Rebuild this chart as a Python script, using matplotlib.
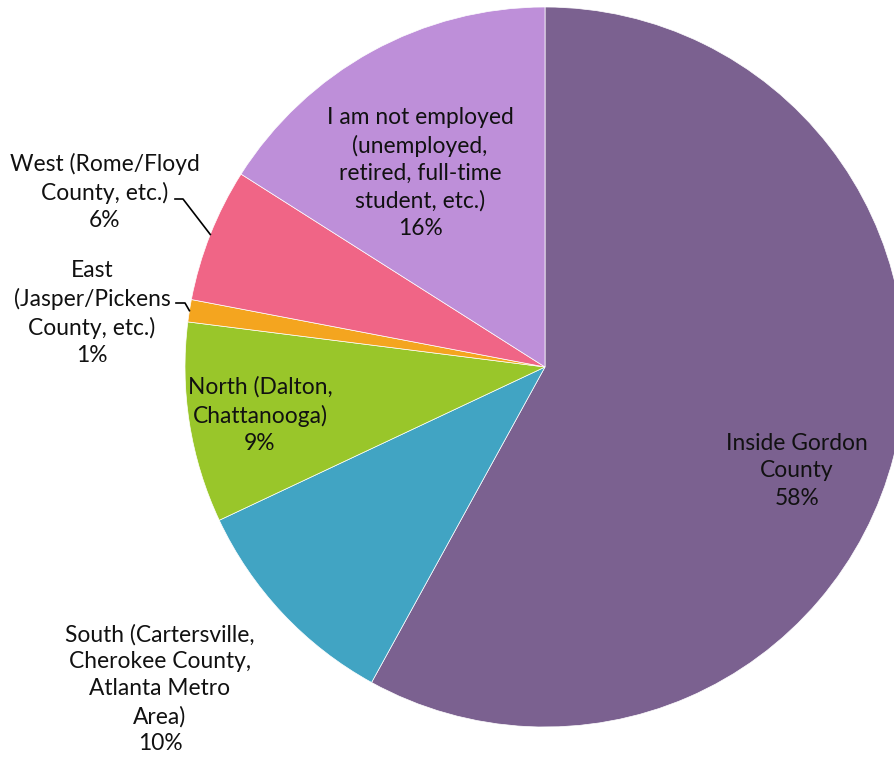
import numpy as np
import matplotlib.pyplot as plt

plt.rcParams['font.family'] = ['Lato', 'DejaVu Sans']

# Where respondents work (share of answers, %)
categories = [
    "Inside Gordon\nCounty",
    "South (Cartersville,\nCherokee County,\nAtlanta Metro\nArea)",
    "North (Dalton,\nChattanooga)",
    "East\n(Jasper/Pickens\nCounty, etc.)",
    "West (Rome/Floyd\nCounty, etc.)",
    "I am not employed\n(unemployed,\nretired, full-time\nstudent, etc.)",
]
shares = [58, 10, 9, 1, 6, 16]
colors = ["#7B6190", "#41A4C3", "#99C62A", "#F4A51F", "#F06586", "#BE8FD9"]

W, H = 895, 764
cx, cy, R = 545, H - 367, 360

# label centres (pixel coords, y from top) and optional leader elbows
label_pos = [(797, 471), (160, 689), (260, 415), (92, 313), (105, 192), (420, 173)]
leaders = {3: [(176, 303), (185, 303)], 4: [(175, 199), (183, 199)]}

fig = plt.figure(figsize=(W / 100, H / 100), dpi=100)
ax = fig.add_axes([0, 0, 1, 1])

wedges, _ = ax.pie(
    shares,
    colors=colors,
    startangle=90,
    counterclock=False,
    center=(cx, cy),
    radius=R,
    wedgeprops=dict(edgecolor="white", linewidth=0.5),
)

for i, (label, value) in enumerate(zip(categories, shares)):
    x, y = label_pos[i]
    ax.text(x, H - y, f"{label}\n{value}%", ha="center", va="center",
            multialignment="center", fontsize=16.4, linespacing=1.36,
            color="#111111")

# leader lines for the thin slices
for i, pts in leaders.items():
    w = wedges[i]
    mid = np.deg2rad((w.theta1 + w.theta2) / 2)
    end = (cx + R * np.cos(mid), cy + R * np.sin(mid))
    xs = [p[0] for p in pts] + [end[0]]
    ys = [H - p[1] for p in pts] + [end[1]]
    ax.plot(xs, ys, color="black", linewidth=1.2)

ax.set_xlim(0, W)
ax.set_ylim(0, H)
ax.set_aspect("equal")
ax.axis("off")

fig.savefig("out.png", dpi=100, facecolor="white")
